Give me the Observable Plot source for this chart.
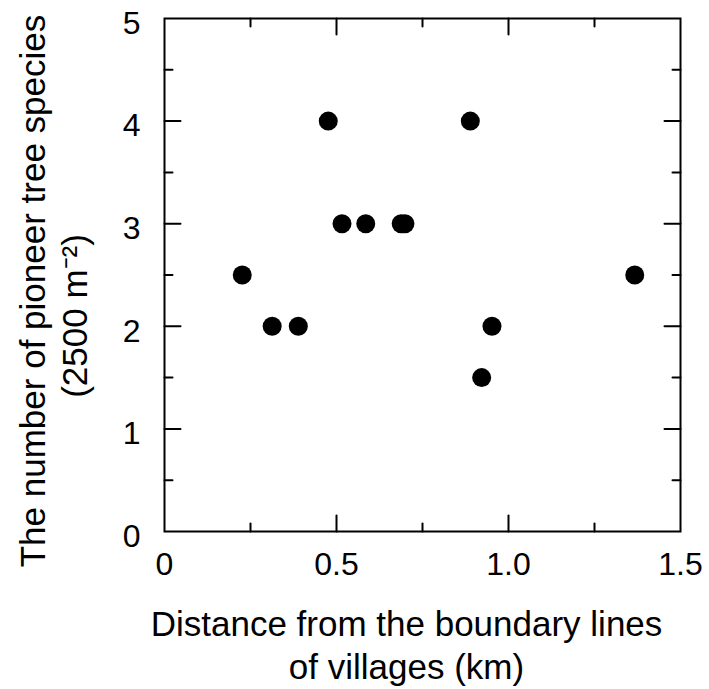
<!DOCTYPE html>
<html><head><meta charset="utf-8">
<script src="https://cdn.jsdelivr.net/npm/d3@7"></script>
<script src="https://cdn.jsdelivr.net/npm/@observablehq/plot@0.6"></script>
<style>body{margin:0;background:#fff}</style>
</head><body><div id="chart"></div>
<script>
const distanceKm = [0.226, 0.313, 0.389, 0.476, 0.516, 0.585, 0.688, 0.699, 0.889, 0.922, 0.952, 1.367];
const pioneerSpecies = [2.5, 2, 2, 4, 3, 3, 3, 3, 4, 1.5, 2, 2.5];
const xTickLabels = [0, 0.5, 1.0, 1.5];
const xMajorTicks = [0.5, 1.0];
const xMinorTicks = [0.25, 0.75, 1.25];
const yTickLabels = [0, 1, 2, 3, 4, 5];
const yMajorTicks = [1, 2, 3, 4];
const yMinorTicks = [0.5, 1.5, 2.5, 3.5, 4.5];
const xTitle = ["Distance from the boundary lines", "of villages (km)"];
const yTitle = ["The number of pioneer tree species", "(2500 m\u207B\u00B2)"];

const points = distanceKm.map((x, i) => ({x, y: pioneerSpecies[i]}));
const tickShape = {draw(ctx, l) { ctx.moveTo(0, 0); ctx.lineTo(0, -l); }};
function ticks(values, side, len) {
  const axis = (side === "top" || side === "bottom") ? "x" : "y";
  const rotate = {bottom: 0, top: 180, left: 90, right: -90}[side];
  return Plot.vector(values, {[axis]: d => d, frameAnchor: side, length: len, rotate, anchor: "start",
    shape: tickShape, stroke: "black", strokeWidth: 2});
}

const chart = Plot.plot({
  width: 709, height: 689,
  marginLeft: 164, marginRight: 29, marginTop: 18, marginBottom: 158,
  style: {fontFamily: '"Liberation Sans", Arial, sans-serif', color: "black", background: "white"},
  x: {domain: [0, 1.5]},
  y: {domain: [0, 5]},
  marks: [
    ...["bottom", "top"].flatMap(s => [ticks(xMajorTicks, s, 16), ticks(xMinorTicks, s, 8)]),
    ...["left", "right"].flatMap(s => [ticks(yMajorTicks, s, 16), ticks(yMinorTicks, s, 8)]),
    Plot.frame({stroke: "black", strokeWidth: 2}),
    Plot.axisX(xTickLabels, {tickSize: 0, tickPadding: 21, fontSize: 32, label: null,
      tickFormat: d => d === 0 ? "0" : d.toFixed(1)}),
    Plot.axisY(yTickLabels, {tickSize: 0, tickPadding: 24, fontSize: 32, label: null, dy: 5,
      tickFormat: d => String(d)}),
    Plot.text([xTitle.join("\n")], {text: d => d, frameAnchor: "bottom", lineAnchor: "top",
      dx: -16, dy: 74, fontSize: 35, lineHeight: 1.22}),
    Plot.text([yTitle[0]], {text: d => d, frameAnchor: "left", textAnchor: "middle", rotate: -90,
      dx: -131, dy: 16, fontSize: 35}),
    Plot.text([yTitle[1]], {text: d => d, frameAnchor: "left", textAnchor: "middle", rotate: -90,
      dx: -89, dy: 41, fontSize: 35}),
    Plot.dot(points, {x: "x", y: "y", r: 9.5, fill: "black"})
  ]
});
document.getElementById("chart").appendChild(chart);
</script>
</body></html>
